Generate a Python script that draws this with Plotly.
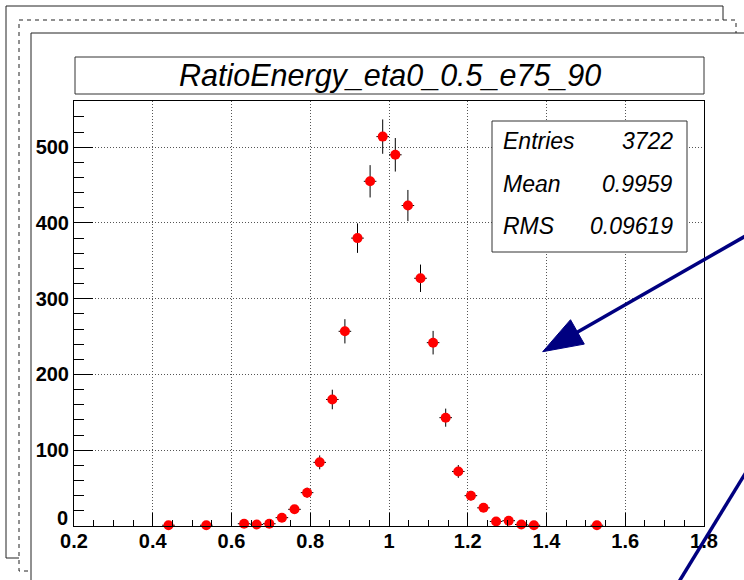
import numpy as np
import plotly.graph_objects as go

# ---- data ----
bin_centers = [0.440, 0.536, 0.632, 0.664, 0.696, 0.728, 0.760, 0.792, 0.824, 0.856,
               0.888, 0.920, 0.952, 0.984, 1.016, 1.048, 1.080, 1.112, 1.144, 1.176,
               1.208, 1.240, 1.272, 1.304, 1.336, 1.368, 1.528]
counts = [1, 1, 3, 2, 3, 11, 22, 44, 84, 167,
          257, 380, 455, 514, 490, 423, 327, 242, 143, 72,
          40, 24, 6, 7, 2, 1, 1]
bin_width = 0.032
x_ticks = [0.2, 0.4, 0.6, 0.8, 1.0, 1.2, 1.4, 1.6, 1.8]
x_ticktext = ["0.2", "0.4", "0.6", "0.8", "1", "1.2", "1.4", "1.6", "1.8"]
y_ticks = [0, 100, 200, 300, 400, 500]
y_ticktext = ["0", "100", "200", "300", "400", "500"]
title_text = "RatioEnergy_eta0_0.5_e75_90"
stat_labels = ["Entries", "Mean", "RMS"]
stat_values = ["3722", "0.9959", "0.09619"]

W, H = 744, 580
L, R, T, B = 74, 40, 101, 54
PW, PH = W - L - R, H - T - B


def px(x):
    return (x - L) / PW


def py(y):
    return (H - B - y) / PH


errs = np.sqrt(np.array(counts, dtype=float))

fig = go.Figure()
fig.add_trace(go.Scatter(
    x=bin_centers, y=counts, mode="markers",
    marker=dict(color="#ff0000", size=10, line=dict(width=0)),
    error_y=dict(type="data", array=errs, color="black", thickness=1, width=0),
    error_x=dict(type="data", array=[bin_width / 2] * len(bin_centers), color="black",
                 thickness=1, width=0),
    showlegend=False, cliponaxis=False,
))

shapes = []
# layered canvas frames
shapes.append(dict(type="rect", xref="paper", yref="paper", x0=px(6), x1=px(723), y0=py(6), y1=py(558),
                   line=dict(color="#222", width=1), fillcolor="white", layer="below"))
shapes.append(dict(type="rect", xref="paper", yref="paper", x0=px(19), x1=px(736), y0=py(20), y1=py(571),
                   line=dict(color="#222", width=1, dash="4px,4px"), fillcolor="white", layer="below"))
shapes.append(dict(type="rect", xref="paper", yref="paper", x0=px(31), x1=px(770), y0=py(33), y1=py(610),
                   line=dict(color="#222", width=1), fillcolor="white", layer="below"))
# title box
shapes.append(dict(type="rect", xref="paper", yref="paper", x0=px(75), x1=px(704), y0=py(57), y1=py(94),
                   line=dict(color="#333", width=1), fillcolor="white", layer="below"))
# stats box
shapes.append(dict(type="rect", xref="paper", yref="paper", x0=px(492), x1=px(687), y0=py(121), y1=py(252),
                   line=dict(color="#333", width=1), fillcolor="white", layer="above"))
# arrow line
navy = "#000080"
shapes.append(dict(type="line", xref="paper", yref="paper", x0=px(770), y0=py(222), x1=px(575), y1=py(333.5),
                   line=dict(color=navy, width=3.5), layer="above"))
# arrow head
tip = (542.7, 351.7)
b1 = (584.3, 344.1)
b2 = (570.5, 319.7)
path = "M {},{} L {},{} L {},{} Z".format(px(tip[0]), py(tip[1]), px(b1[0]), py(b1[1]), px(b2[0]), py(b2[1]))
shapes.append(dict(type="path", xref="paper", yref="paper", path=path, fillcolor=navy,
                   line=dict(color=navy, width=1), layer="above"))
# second line
shapes.append(dict(type="line", xref="paper", yref="paper", x0=px(667.8), y0=py(600), x1=px(770), y1=py(433),
                   line=dict(color=navy, width=3.5), layer="above"))

annotations = []
annotations.append(dict(x=px(389.5), y=py(75.5), xref="paper", yref="paper", text=title_text,
                        showarrow=False, xanchor="center", yanchor="middle",
                        font=dict(family="Liberation Sans, Arial, sans-serif", size=30.5, color="black",
                                  style="italic")))
row_y = [141, 184, 226]
for lab, val, yy in zip(stat_labels, stat_values, row_y):
    annotations.append(dict(x=px(501), y=py(yy), xref="paper", yref="paper", text=lab,
                            showarrow=False, xanchor="left", yanchor="middle",
                            font=dict(family="Liberation Sans, Arial, sans-serif", size=23, color="black",
                                      style="italic")))
    annotations.append(dict(x=px(675), y=py(yy), xref="paper", yref="paper", text=val,
                            showarrow=False, xanchor="right", yanchor="middle",
                            font=dict(family="Liberation Sans, Arial, sans-serif", size=23, color="black",
                                      style="italic")))

tickfont = dict(family="Liberation Sans, Arial, sans-serif", size=20, color="black", weight="bold")

# the y-axis "0" label sits a little above the axis corner, as in the reference
annotations.append(dict(x=0, y=y_ticks[0], xref="paper", yref="y", text=y_ticktext[0],
                        showarrow=False, xanchor="right", yanchor="middle", xshift=-4, yshift=8,
                        font=tickfont))
y_ticktext_axis = [""] + y_ticktext[1:]

fig.update_layout(
    width=W, height=H,
    margin=dict(l=L, r=R, t=T, b=B, pad=0),
    paper_bgcolor="white", plot_bgcolor="white",
    shapes=shapes, annotations=annotations,
    xaxis=dict(range=[0.2, 1.8], tickmode="array", tickvals=x_ticks, ticktext=x_ticktext,
               ticks="inside", ticklen=13, tickwidth=1, tickcolor="black",
               minor=dict(dtick=0.05, tick0=0.2, ticks="inside", ticklen=6, tickcolor="black",
                          showgrid=False),
               showline=True, linecolor="black", linewidth=1, mirror=True,
               showgrid=True, gridcolor="#555", gridwidth=1, griddash="1px,2px",
               zeroline=False, tickfont=tickfont, fixedrange=True, ticklabelstandoff=-3),
    yaxis=dict(range=[0, 561], tickmode="array", tickvals=y_ticks, ticktext=y_ticktext_axis,
               ticks="inside", ticklen=19, tickwidth=1, tickcolor="black",
               minor=dict(dtick=20, tick0=0, ticks="inside", ticklen=10, tickcolor="black",
                          showgrid=False),
               showline=True, linecolor="black", linewidth=1, mirror=True,
               showgrid=True, gridcolor="#555", gridwidth=1, griddash="1px,2px",
               zeroline=False, tickfont=tickfont, fixedrange=True),
)

fig.write_html("out.html")
